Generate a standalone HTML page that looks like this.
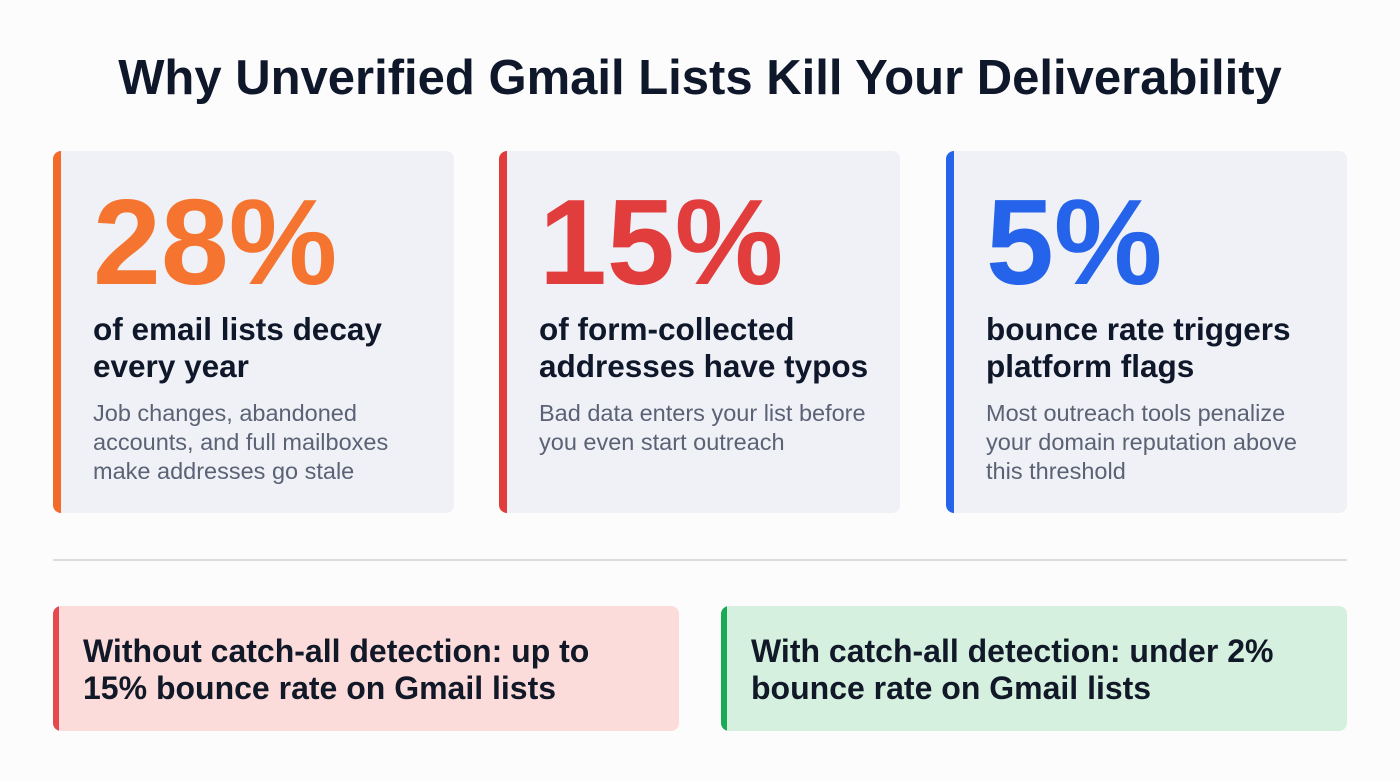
<!DOCTYPE html>
<html><head><meta charset="utf-8"><style>
*{margin:0;padding:0;box-sizing:border-box}
body{width:1400px;height:781px;background:#fcfcfc;font-family:"Liberation Sans",sans-serif;position:relative;overflow:hidden}
h1{position:absolute;top:50px;left:0;width:1400px;text-align:center;font-size:49px;font-weight:bold;color:#0f172a}
.card{position:absolute;top:151px;width:401px;height:362px;background:#eff1f6;border-radius:8px;overflow:hidden}
.card .bar{position:absolute;left:0;top:0;bottom:0;width:8px}
.num{position:absolute;left:40px;top:30px;font-size:122px;font-weight:bold;line-height:1}
.sub{position:absolute;left:40px;top:160px;font-size:31.5px;font-weight:bold;color:#0f172a;line-height:37px}
.desc{position:absolute;left:40px;top:248px;font-size:23.5px;color:#5b6275;line-height:29px}
.hr{position:absolute;left:53px;top:559px;width:1294px;height:2px;background:#dcdde1}
.box{position:absolute;top:606px;width:626px;height:125px;border-radius:8px;overflow:hidden}
.box .bar{position:absolute;left:0;top:0;bottom:0;width:6px}
.box p{position:absolute;left:30px;top:27px;font-size:32px;font-weight:bold;color:#111827;line-height:37px;white-space:nowrap}
</style></head><body>
<h1>Why Unverified Gmail Lists Kill Your Deliverability</h1>
<div class="card" style="left:53px"><div class="bar" style="background:#f26b2b"></div>
<div class="num" style="color:#f47430">28%</div>
<div class="sub">of email lists decay<br>every year</div>
<div class="desc">Job changes, abandoned<br>accounts, and full mailboxes<br>make addresses go stale</div></div>
<div class="card" style="left:499px"><div class="bar" style="background:#e03c3c"></div>
<div class="num" style="color:#e23d3d">15%</div>
<div class="sub">of form-collected<br>addresses have typos</div>
<div class="desc">Bad data enters your list before<br>you even start outreach</div></div>
<div class="card" style="left:946px"><div class="bar" style="background:#2563eb"></div>
<div class="num" style="color:#2563eb">5%</div>
<div class="sub">bounce rate triggers<br>platform flags</div>
<div class="desc">Most outreach tools penalize<br>your domain reputation above<br>this threshold</div></div>
<div class="hr"></div>
<div class="box" style="left:53px;background:#fbdcdb"><div class="bar" style="background:#e5484d"></div><p>Without catch-all detection: up to<br>15% bounce rate on Gmail lists</p></div>
<div class="box" style="left:721px;background:#d6f0df"><div class="bar" style="background:#1aa955"></div><p>With catch-all detection: under 2%<br>bounce rate on Gmail lists</p></div>
</body></html>
